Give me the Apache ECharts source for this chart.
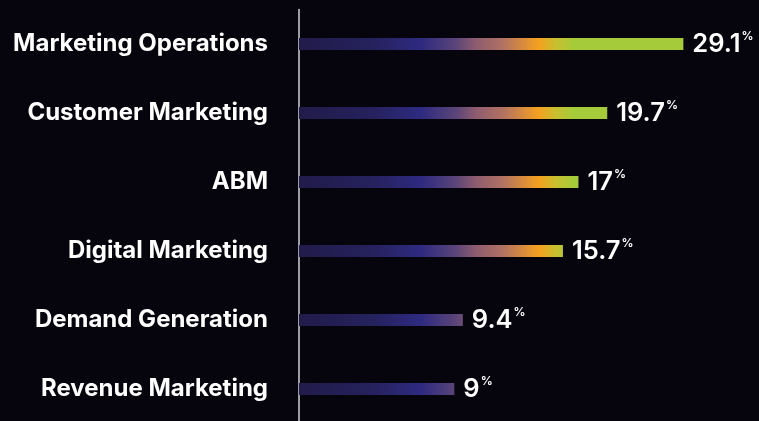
<!DOCTYPE html>
<html>
<head>
<meta charset="utf-8">
<script src="https://cdn.jsdelivr.net/npm/echarts@6/dist/echarts.min.js"></script>
<style>
  html, body { margin: 0; padding: 0; background: #06050d; }
  #chart { width: 759px; height: 421px; }
</style>
</head>
<body>
<div id="chart"></div>
<script>
// Share of respondents by marketing function (%)
const categories = [
  'Marketing Operations',
  'Customer Marketing',
  'ABM',
  'Digital Marketing',
  'Demand Generation',
  'Revenue Marketing'
];
const shares = [29.1, 19.7, 17, 15.7, 9.4, 9];

const chart = echarts.init(document.getElementById('chart'), null, { renderer: 'canvas' });

// One gradient laid over the whole plot width, so every bar picks up the
// colour of the x position it reaches.
const barFill = new echarts.graphic.LinearGradient(300, 0, 691, 0, [
  { offset: 0.00, color: '#211c4a' },
  { offset: 0.18, color: '#25215c' },
  { offset: 0.31, color: '#2e2a80' },
  { offset: 0.40, color: '#5c4578' },
  { offset: 0.45, color: '#8e5c70' },
  { offset: 0.52, color: '#b27262' },
  { offset: 0.61, color: '#f5a020' },
  { offset: 0.655, color: '#c8c030' },
  { offset: 0.70, color: '#a6cb3a' },
  { offset: 1.00, color: '#a6cb3a' }
], true);

const FONT = 'Inter, "Noto Sans", Roboto, sans-serif';

chart.setOption({
  backgroundColor: '#06050d',
  animation: false,
  grid: { left: 299, right: 19, top: 9.5, height: 414, containLabel: false, outerBoundsMode: 'none' },
  xAxis: {
    type: 'log',
    logBase: 10,
    min: 4.06,
    max: 38.9,
    startValue: 4.06,
    show: false
  },
  yAxis: {
    type: 'category',
    data: categories,
    inverse: true,
    axisLine: { show: true, lineStyle: { color: '#d0d0d8', width: 1.5 } },
    axisTick: { show: false },
    axisLabel: {
      color: '#ffffff',
      fontFamily: FONT,
      fontWeight: 700,
      fontSize: 24,
      margin: 31
    }
  },
  series: [{
    type: 'bar',
    data: shares,
    startValue: 4.06,
    barWidth: 12,
    clip: true,
    itemStyle: { color: barFill },
    label: {
      show: true,
      position: 'right',
      distance: 9,
      formatter: p => '{v|' + p.value + '}{p|%}',
      rich: {
        v: { color: '#ffffff', fontFamily: FONT, fontWeight: 600, fontSize: 25.5, lineHeight: 27 },
        p: { color: '#ffffff', fontFamily: FONT, fontWeight: 600, fontSize: 12, verticalAlign: 'top', lineHeight: 27, padding: [0, 0, 0, 1] }
      }
    }
  }]
});
</script>
</body>
</html>
